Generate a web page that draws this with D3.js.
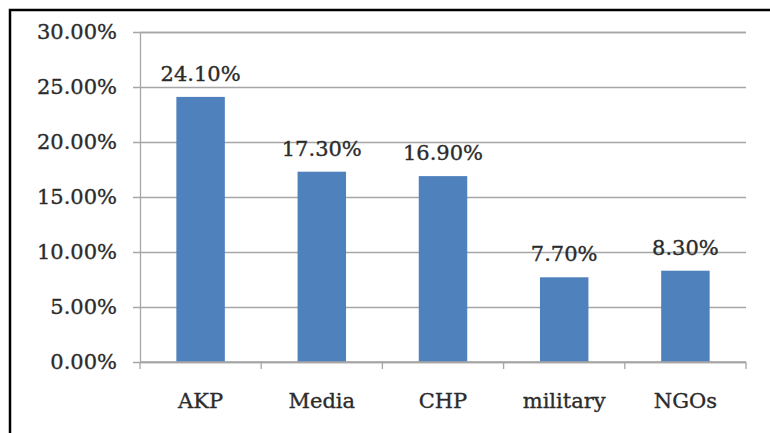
<!DOCTYPE html>
<html>
<head>
<meta charset="utf-8">
<script src="https://cdn.jsdelivr.net/npm/d3@7"></script>
<style>
  html, body { margin: 0; padding: 0; background: #ffffff; }
  svg { display: block; }
</style>
</head>
<body>
<svg id="chart" width="770" height="433"></svg>
<script>
const categories = ["AKP", "Media", "CHP", "military", "NGOs"];
const values = [24.1, 17.3, 16.9, 7.7, 8.3];
const yTicks = [0, 5, 10, 15, 20, 25, 30];

const svg = d3.select("#chart");
const W = 770, H = 433;
const margin = { left: 140, right: 24, top: 32, bottom: 71 };
const fontFamily = "'DejaVu Serif', serif";
const fontSize = 21;
const textColor = "#2b2b2b";
const gridColor = "#a6a6a6";

svg.append("rect").attr("width", W).attr("height", H).attr("fill", "#ffffff");

// outer border (extends past right/bottom edges)
svg.append("rect")
  .attr("x", 10).attr("y", 10)
  .attr("width", W + 20).attr("height", H + 20)
  .attr("fill", "none").attr("stroke", "#000").attr("stroke-width", 2.5);

const x = d3.scaleBand()
  .domain(categories)
  .range([margin.left, W - margin.right])
  .paddingInner(0.6).paddingOuter(0.3);

const y = d3.scaleLinear()
  .domain([0, 30])
  .range([H - margin.bottom, margin.top]);

const fmt = v => v.toFixed(2) + "%";

function styleText(sel) {
  sel.attr("font-family", fontFamily).attr("font-size", fontSize)
    .attr("fill", textColor)
    .attr("stroke", textColor).attr("stroke-width", 0.35);
}

// gridlines + y axis
const yAxis = d3.axisLeft(y)
  .tickValues(yTicks)
  .tickFormat(fmt)
  .tickSize(-(W - margin.right - margin.left))
  .tickPadding(23);

const gy = svg.append("g")
  .attr("transform", `translate(${margin.left},0)`)
  .call(yAxis);
gy.select(".domain").attr("stroke", gridColor).attr("stroke-width", 1.3);
gy.selectAll(".tick line").attr("stroke", gridColor).attr("stroke-width", 1.3)
  .attr("x1", -7);
gy.selectAll(".tick text").call(styleText);

// bars
svg.append("g").selectAll("rect")
  .data(values)
  .join("rect")
  .attr("x", (d, i) => x(categories[i]))
  .attr("y", d => y(d))
  .attr("width", x.bandwidth())
  .attr("height", d => y(0) - y(d))
  .attr("fill", "#4f81bd");

// x axis
const bounds = d3.range(categories.length + 1).map(i => margin.left + i * (W - margin.right - margin.left) / categories.length);
const gx = svg.append("g");
gx.append("line")
  .attr("x1", margin.left).attr("x2", W - margin.right)
  .attr("y1", y(0)).attr("y2", y(0))
  .attr("stroke", gridColor).attr("stroke-width", 1.3);
gx.selectAll("line.tk").data(bounds).join("line")
  .attr("class", "tk")
  .attr("x1", d => d).attr("x2", d => d)
  .attr("y1", y(0)).attr("y2", y(0) + 7)
  .attr("stroke", gridColor).attr("stroke-width", 1.3);
gx.selectAll("text").data(categories).join("text")
  .attr("x", d => x(d) + x.bandwidth() / 2)
  .attr("y", y(0) + 46)
  .attr("text-anchor", "middle")
  .call(styleText)
  .text(d => d);

// data labels
svg.append("g").selectAll("text")
  .data(values)
  .join("text")
  .attr("x", (d, i) => x(categories[i]) + x.bandwidth() / 2)
  .attr("y", d => y(d) - 16)
  .attr("text-anchor", "middle")
  .call(styleText)
  .text(d => fmt(d));
</script>
</body>
</html>
